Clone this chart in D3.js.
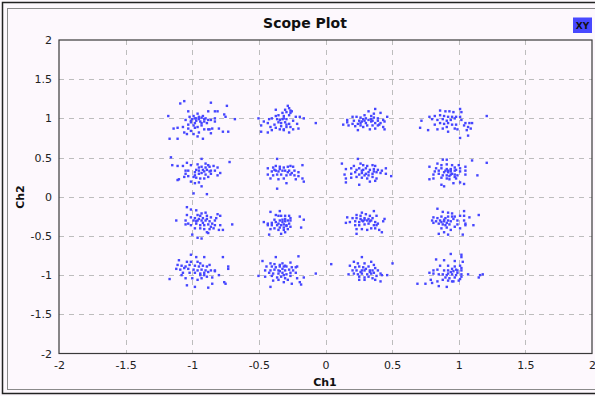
<!DOCTYPE html>
<html>
<head>
<meta charset="utf-8">
<script src="https://cdn.jsdelivr.net/npm/d3@7"></script>
<style>
  body { margin: 0; background: #fdf8fd; }
  svg { display: block; font-family: "DejaVu Sans", sans-serif; }
</style>
</head>
<body>
<div id="chart"></div>
<script>
const title = "Scope Plot";
const xLabel = "Ch1";
const yLabel = "Ch2";
const legendLabel = "XY";
const xTicks = [-2, -1.5, -1, -0.5, 0, 0.5, 1, 1.5, 2];
const yTicks = [-2, -1.5, -1, -0.5, 0, 0.5, 1, 1.5, 2];

// nominal 16-QAM levels (Ch1 columns, Ch2 rows from top)
const ch1Levels = [-1, -0.333, 0.333, 1];
const ch2Levels = [1, 0.333, -0.333, -1];

// noise around each symbol, in hundredths
const r1c1 = [[-9,19],[-6,22],[14,20],[26,16],[-3,9],[4,6],[12,9],[17,9],[19,9],[24,5],[-18,3],[-5,-2],[0,-1],[2,0],[3,0],[5,-1],[7,1],[9,-1],[12,-2],[14,-2],[17,0],[25,2],[32,-1],[-14,-13],[-11,-12],[-7,-11],[-3,-8],[-1,-5],[1,-9],[2,-12],[4,-11],[7,-9],[9,-14],[12,-14],[13,-14],[15,-13],[20,-13],[23,-17],[27,-17],[-4,-20],[1,-20],[4,-23],[8,-26],[14,-19],[-17,-26],[-11,-26],[17,-4],[11,-6],[7,-6],[-3,-13],[-1,-16],[5,-18],[-6,-18],[-2,2],[1,3],[3,-3],[6,-4],[8,3],[10,0],[-1,-3],[2,-6],[5,2],[9,-4]];
const r1c2 = [[5,16],[6,13],[3,11],[7,10],[-4,11],[4,8],[7,7],[8,9],[-4,3],[2,3],[6,4],[11,2],[14,2],[17,0],[-9,-1],[-7,0],[-3,-1],[-1,-2],[1,-1],[2,0],[4,-1],[-13,-4],[-10,-6],[-2,-5],[0,-6],[3,-5],[6,-7],[12,-7],[26,-6],[-17,0],[-15,-9],[-8,-11],[-4,-12],[0,-10],[2,-14],[4,-11],[7,-11],[-15,-17],[-10,-18],[-7,-15],[-1,-14],[2,-15],[6,-18],[9,-14],[13,-13],[9,-3],[-5,-8],[4,-8],[-2,4],[1,7]];
const r1c3 = [[4,12],[-1,9],[8,7],[-4,4],[1,3],[3,6],[-13,2],[-10,2],[-7,1],[-3,0],[1,-1],[6,0],[10,-2],[13,2],[-17,-2],[-12,-3],[-8,-3],[-6,-4],[-3,-6],[1,-4],[4,-6],[8,-6],[11,-4],[-20,-8],[-16,-9],[-11,-10],[-7,-9],[-2,-9],[2,-9],[6,-9],[10,-11],[-9,-15],[-5,-11],[0,-14],[4,-13],[11,-14],[-7,-6],[-4,-3],[-13,-7],[6,-3],[-17,-5],[-1,-2],[2,-3],[-5,-1],[3,1],[-9,-7],[7,-8]];
const r1c4 = [[-14,10],[-10,9],[-7,9],[-4,8],[1,12],[2,8],[-22,2],[-18,3],[-14,4],[-11,3],[-8,2],[-5,2],[-2,2],[1,2],[-20,-1],[-16,-2],[-12,-1],[-9,-3],[-6,-2],[-3,0],[2,-2],[5,-6],[8,-6],[10,-6],[-28,-3],[-14,-6],[-11,-7],[-8,-6],[-5,-8],[-2,-8],[4,-9],[7,-11],[9,-13],[-29,-12],[-23,-15],[-16,-14],[-12,-13],[-8,-17],[-3,-13],[1,-25],[7,-22],[21,3],[-18,-8],[-9,-11],[-1,-14],[6,-15]];
const r2c1 = [[-16,17],[7,15],[-15,7],[-11,6],[-7,6],[-4,10],[-1,7],[4,8],[10,9],[12,7],[7,5],[10,4],[13,5],[16,6],[19,4],[28,11],[-5,0],[-3,0],[3,1],[5,0],[8,1],[11,1],[14,0],[17,0],[21,-3],[2,-2],[5,-4],[7,-3],[10,-5],[14,-4],[19,-6],[-10,-11],[-6,-8],[-3,-7],[1,-8],[3,-9],[6,-10],[9,-10],[12,-8],[-1,-14],[2,-16],[5,-15],[7,-20],[1,-29],[11,-30],[-11,-12],[-5,-4],[13,-1],[9,-1],[5,4],[2,-6]];
const r2c2 = [[-3,15],[-10,3],[-6,4],[-4,6],[-1,5],[2,4],[5,5],[7,6],[9,5],[16,7],[-7,-1],[-4,0],[-2,-1],[1,0],[3,0],[6,0],[10,0],[13,-2],[-10,-5],[-6,-6],[-3,-5],[0,-5],[4,-6],[7,-5],[10,-6],[13,-7],[-8,-10],[-2,-11],[2,-10],[11,-11],[16,-10],[17,-14],[4,-16],[-3,-23],[-1,2],[5,-2],[-5,1],[8,-3]];
const r2c3 = [[-9,15],[-21,9],[-12,6],[-7,9],[-5,7],[-2,6],[2,7],[4,6],[12,3],[-18,2],[-14,3],[-10,1],[-8,3],[-5,1],[-3,3],[0,1],[3,2],[6,1],[9,0],[-19,-5],[-14,-4],[-11,-2],[-8,-5],[-6,-3],[-3,-4],[-1,-2],[2,-4],[5,-2],[8,-3],[12,-4],[16,-7],[-18,-10],[-14,-9],[-10,-8],[-6,-9],[-2,-10],[2,-8],[5,-10],[-18,-15],[-8,-18],[0,-14],[4,-13],[-4,-6],[-1,-6],[3,-1],[-6,0]];
const r2c4 = [[-12,14],[-9,14],[10,13],[21,10],[-16,9],[-13,7],[-9,8],[-5,7],[0,7],[-22,5],[-17,3],[-13,3],[-9,2],[-6,2],[-3,4],[1,3],[5,5],[-18,-1],[-15,0],[-11,-2],[-8,0],[-6,-1],[-3,0],[1,-1],[5,0],[-19,-5],[-15,-4],[-12,-6],[-9,-6],[-6,-5],[-3,-5],[-1,-6],[5,-5],[14,-6],[-22,-11],[-19,-10],[-13,-9],[-9,-10],[-7,-11],[-3,-8],[1,-15],[4,-17],[-13,-18],[-11,-20],[-4,-16],[-8,-2],[-5,-4],[-2,1],[-7,-7],[-10,0],[-6,1],[-2,-10]];
const r3c1 = [[-4,20],[-1,17],[3,16],[7,12],[10,13],[-4,10],[4,10],[6,9],[11,9],[19,11],[21,9],[-1,7],[2,6],[5,5],[8,6],[11,5],[14,7],[18,6],[-12,3],[-5,3],[1,3],[4,3],[7,3],[10,3],[13,2],[17,3],[-5,-2],[-3,-1],[-1,-3],[3,-1],[6,-3],[9,-3],[12,-2],[15,-1],[17,-3],[21,-3],[30,-2],[2,-7],[6,-7],[9,-8],[13,-8],[16,-7],[20,-9],[23,-9],[0,-15],[4,-19],[7,-20],[12,-13],[8,0],[3,2],[14,-5],[11,-12]];
const r3c2 = [[-8,14],[-1,15],[-4,10],[-2,9],[0,9],[3,9],[6,9],[7,6],[14,8],[17,4],[-13,1],[-10,-1],[-7,0],[-4,1],[-2,-1],[1,1],[3,2],[5,3],[7,3],[-10,-3],[-7,-3],[-3,-3],[0,-3],[2,-2],[4,-3],[6,-1],[-8,-8],[-5,-7],[-1,-6],[2,-6],[5,-8],[7,-5],[15,-6],[-9,-15],[0,-14],[3,-12],[1,4],[3,5],[-1,3],[-5,4],[4,-4],[2,-9],[-2,-9]];
const r3c3 = [[3,15],[-6,13],[-10,10],[-7,9],[-3,11],[0,9],[5,9],[-17,7],[-13,6],[-10,6],[-7,5],[-4,6],[-1,5],[2,6],[11,5],[-18,0],[-15,1],[-11,2],[-8,1],[-5,2],[-2,3],[0,2],[4,1],[10,2],[-11,-3],[-8,-3],[-4,-2],[-1,-1],[3,-3],[5,-3],[-10,-8],[-6,-8],[-2,-9],[1,-7],[4,-7],[7,-9],[9,-12],[-10,-14],[-4,4],[-6,3],[1,3],[6,-1]];
const r3c4 = [[-16,18],[-12,14],[-8,13],[-5,12],[4,15],[8,7],[15,10],[-19,7],[-16,6],[-13,8],[-10,6],[-8,8],[-5,8],[-3,8],[1,9],[4,9],[-20,3],[-17,2],[-14,3],[-11,2],[-8,3],[-6,2],[-1,3],[4,3],[-19,0],[-15,-1],[-12,-2],[-9,0],[-7,-2],[-1,-2],[5,-1],[11,-3],[-13,-7],[-9,-6],[-6,-9],[1,-7],[5,-3],[-15,-14],[-11,-12],[-8,-15],[3,-15],[-13,1],[-10,-3],[-4,5],[-3,-5],[-11,4]];
const r4c1 = [[-1,26],[3,23],[9,23],[23,23],[-10,19],[-4,17],[-1,17],[4,17],[6,15],[27,11],[27,8],[-11,13],[-8,12],[-5,11],[-2,13],[2,12],[5,11],[8,12],[11,11],[13,13],[-12,8],[-9,7],[-6,9],[-3,8],[1,7],[4,6],[7,7],[10,6],[14,6],[17,6],[-7,3],[-2,3],[2,3],[6,2],[9,3],[12,4],[17,5],[20,0],[-17,-5],[-5,-4],[0,-4],[4,-6],[7,-4],[11,-2],[15,-3],[-4,-13],[2,-15],[12,-16],[15,-11],[24,-9],[25,-11],[6,0],[9,0],[-8,0]];
const r4c2 = [[-4,23],[13,24],[-14,18],[-8,15],[-5,14],[-1,13],[1,15],[3,12],[7,16],[12,11],[-11,11],[-7,11],[-4,10],[-1,11],[2,11],[4,11],[8,10],[11,10],[-12,6],[-8,6],[-5,7],[-2,6],[1,8],[3,6],[6,7],[9,6],[-9,3],[-6,2],[-2,2],[1,3],[4,1],[7,3],[11,3],[26,2],[-17,-1],[-12,-2],[-7,-1],[-3,-3],[0,-2],[3,-4],[7,-1],[12,-4],[17,-3],[-6,-7],[-2,-6],[2,-9],[8,-11],[14,-9],[15,-12],[-8,-15],[-1,5],[2,0],[5,-6]];
const r4c3 = [[-6,23],[-29,14],[-12,17],[-9,15],[-4,15],[1,17],[3,13],[-15,12],[-11,10],[-8,11],[-5,10],[-1,11],[4,9],[17,15],[-13,6],[-10,6],[-6,6],[-4,6],[0,6],[2,6],[6,6],[-16,1],[-12,2],[-9,1],[-6,2],[-2,1],[1,2],[3,3],[8,2],[13,0],[-8,-2],[-4,-3],[-1,-2],[2,-4],[5,-1],[9,0],[-8,-6],[-4,-6],[4,-6],[8,-8],[-3,8],[0,4],[-7,4]];
const r4c4 = [[-6,27],[2,26],[2,23],[-17,20],[-11,19],[-3,18],[3,17],[-14,12],[-8,12],[-3,11],[1,12],[2,9],[-5,8],[-2,7],[-19,6],[-16,7],[-11,6],[-8,6],[-4,5],[-1,6],[2,6],[-22,3],[-19,2],[-15,1],[-12,1],[-8,2],[-5,1],[-1,3],[2,1],[7,1],[16,0],[15,-3],[18,1],[-10,-3],[-7,-4],[-3,-3],[1,-5],[-21,-6],[-16,-8],[-12,-6],[-8,-7],[-4,-8],[0,-7],[-31,-11],[-25,-11],[-20,-10],[-15,-14],[-9,-15],[-5,-8],[-6,4],[-2,0],[-9,0],[2,-2]];

const clusters = [
  [r1c1, r1c2, r1c3, r1c4],
  [r2c1, r2c2, r2c3, r2c4],
  [r3c1, r3c2, r3c3, r3c4],
  [r4c1, r4c2, r4c3, r4c4]
];

const points = clusters.flatMap((row, r) =>
  row.flatMap((offs, c) =>
    offs.map(([dx, dy]) => ({ x: ch1Levels[c] + dx / 100, y: ch2Levels[r] + dy / 100 }))));

const width = 595;
const height = 396;
const plot = { left: 59, right: 592, top: 40, bottom: 353.5 };

const svg = d3.select("#chart").append("svg")
  .attr("width", width)
  .attr("height", height);

// widget frame
svg.append("rect")
  .attr("x", 2.5).attr("y", 2.5)
  .attr("width", width + 10).attr("height", 391)
  .attr("fill", "none").attr("stroke", "#222").attr("stroke-width", 1.5);
svg.append("rect")
  .attr("x", 7.5).attr("y", 8.5)
  .attr("width", width + 10).attr("height", 381)
  .attr("fill", "none").attr("stroke", "#8a8a8a");

const x = d3.scaleLinear().domain([-2, 2]).range([plot.left, plot.right]);
const y = d3.scaleLinear().domain([-2, 2]).range([plot.bottom, plot.top]);

// grid
const grid = svg.append("g")
  .attr("stroke", "#bdbdbd")
  .attr("stroke-dasharray", "5,5");
grid.selectAll(".vg")
  .data(xTicks.slice(1, -1))
  .enter().append("line")
  .attr("x1", d => Math.round(x(d)) + 0.5).attr("x2", d => Math.round(x(d)) + 0.5)
  .attr("y1", plot.top).attr("y2", plot.bottom);
grid.selectAll(".hg")
  .data(yTicks.slice(1, -1))
  .enter().append("line")
  .attr("y1", d => Math.round(y(d)) + 0.5).attr("y2", d => Math.round(y(d)) + 0.5)
  .attr("x1", plot.left).attr("x2", plot.right);

// axes
const fmt = d => String(d);
const xAxis = svg.append("g")
  .attr("transform", `translate(0,${plot.bottom})`)
  .call(d3.axisBottom(x).tickValues(xTicks).tickSize(0).tickPadding(8).tickFormat(fmt));
const yAxis = svg.append("g")
  .attr("transform", `translate(${plot.left},0)`)
  .call(d3.axisLeft(y).tickValues(yTicks).tickSize(0).tickPadding(7).tickFormat(fmt));
[xAxis, yAxis].forEach(a => {
  a.select(".domain").remove();
  a.selectAll("text")
    .style("font-family", "'DejaVu Sans', sans-serif")
    .style("font-size", "11px")
    .attr("fill", "#222");
});

// plot frame
svg.append("rect")
  .attr("x", plot.left).attr("y", plot.top)
  .attr("width", plot.right - plot.left).attr("height", plot.bottom - plot.top)
  .attr("fill", "none").attr("stroke", "#3a3a3a").attr("stroke-width", 1.2);

// points
svg.append("g")
  .selectAll("rect")
  .data(points)
  .enter().append("rect")
  .attr("x", d => x(d.x) - 1.2)
  .attr("y", d => y(d.y) - 1.2)
  .attr("width", 2.4)
  .attr("height", 2.4)
  .attr("fill", "#4646ff");

// titles
svg.append("text")
  .attr("x", 305).attr("y", 28)
  .attr("text-anchor", "middle")
  .style("font-size", "14px").style("font-weight", "bold")
  .attr("fill", "#111")
  .text(title);
svg.append("text")
  .attr("x", 325).attr("y", 386)
  .attr("text-anchor", "middle")
  .style("font-size", "11px").style("font-weight", "bold")
  .attr("fill", "#111")
  .text(xLabel);
svg.append("text")
  .attr("transform", "translate(24,197) rotate(-90)")
  .attr("text-anchor", "middle")
  .style("font-size", "11px").style("font-weight", "bold")
  .attr("fill", "#111")
  .text(yLabel);

// legend
const legend = svg.append("g").attr("transform", "translate(573,17.5)");
legend.append("rect")
  .attr("width", 19).attr("height", 15.5)
  .attr("fill", "#4848ff");
legend.append("text")
  .attr("x", 9.5).attr("y", 11.5)
  .attr("text-anchor", "middle")
  .style("font-size", "9px").style("font-weight", "bold")
  .attr("fill", "#111")
  .text(legendLabel);
</script>
</body>
</html>
